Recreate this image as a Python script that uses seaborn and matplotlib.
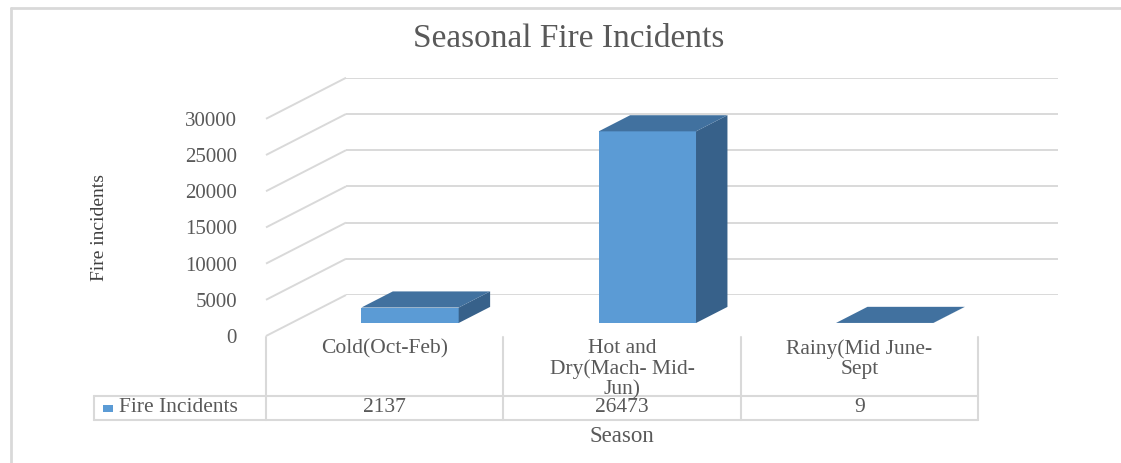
import textwrap
import matplotlib
matplotlib.use("Agg")
import matplotlib.pyplot as plt
from matplotlib.lines import Line2D
from matplotlib.patches import Polygon, Rectangle
import seaborn as sns

# ---------------- data ----------------
categories = ["Cold(Oct-Feb)", "Hot and Dry(Mach- Mid-Jun)", "Rainy(Mid June-Sept"]
fire_incidents = [2137, 26473, 9]
series_name = "Fire Incidents"
y_ticks = [0, 5000, 10000, 15000, 20000, 25000, 30000]
chart_title = "Seasonal Fire Incidents"
x_title = "Season"
y_title = "Fire incidents"

# ---------------- style ----------------
sns.set_style("white")
plt.rcParams["font.family"] = ["Liberation Serif", "DejaVu Serif"]

W, H, DPI = 1121, 463, 100
fig = plt.figure(figsize=(W / DPI, H / DPI), dpi=DPI)
fig.patch.set_facecolor("white")

GRID = "#D9D9D9"
TXT = "#595959"
FRONT = "#5B9BD5"
TOP = "#41719F"
SIDE = "#37618A"


def box(left_px, top_px, width_px, height_px):
    return [left_px / W, 1 - (top_px + height_px) / H, width_px / W, height_px / H]


# geometry in pixels
PL, PR = 266, 978            # front plane left / right
P0 = 336                     # pixel row of value 0 on the front plane
PPX = 36.2 / 5000            # pixels per unit
YMAX = y_ticks[-1]
PH = YMAX * PPX
DEPTH = (80, 41)             # full depth offset (px right, px up)
Z0, Z1 = 0.317, 0.71         # bar depth range
COLW = (PR - PL) / len(categories)

ax_back = fig.add_axes(box(PL + DEPTH[0], P0 - DEPTH[1] - PH, PR - PL, PH))
ax_front = fig.add_axes(box(PL, P0 - PH, PR - PL, PH))
ax_bar = fig.add_axes(box(PL + Z0 * DEPTH[0], P0 - Z0 * DEPTH[1] - PH, PR - PL, PH))

for a in (ax_back, ax_front, ax_bar):
    a.set_facecolor("none")
    for s in a.spines.values():
        s.set_visible(False)

# back wall gridlines
for v in y_ticks:
    ax_back.axhline(v, color=GRID, lw=1.4)
ax_back.set_xlim(-0.5, len(categories) - 0.5)
ax_back.set_ylim(0, YMAX)
ax_back.set_xticks([])
ax_back.set_yticks([])

# side wall diagonals (front plane -> back wall)
dxu = DEPTH[0] / COLW
dyu = DEPTH[1] / PPX
for v in y_ticks:
    ax_front.plot([-0.5, -0.5 + dxu], [v, v + dyu], color=GRID, lw=1.4,
                  clip_on=False, solid_capstyle="butt")
ax_front.set_xlim(-0.5, len(categories) - 0.5)
ax_front.set_ylim(0, YMAX)
ax_front.set_xticks([])
ax_front.set_yticks(y_ticks)
ax_front.set_yticklabels([str(v) for v in y_ticks])
ax_front.tick_params(axis="y", length=0, pad=21, labelsize=15, labelcolor=TXT)
ax_front.set_ylabel(y_title, fontsize=14, color="#404040")
ax_front.yaxis.set_label_coords((108 - PL) / (PR - PL), 0.5)

# bars (front faces) with seaborn
sns.barplot(x=categories, y=fire_incidents, ax=ax_bar, color=FRONT,
            saturation=1, width=0.41, edgecolor="none", linewidth=0)
ax_bar.set_xlim(-0.5, len(categories) - 0.5)
ax_bar.set_ylim(0, YMAX)
ax_bar.set_xticks([])
ax_bar.set_yticks([])
ax_bar.set_xlabel("")
ax_bar.set_ylabel("")

dd = Z1 - Z0
bdx = dd * DEPTH[0] / COLW
bdy = dd * DEPTH[1] / PPX
for p in list(ax_bar.patches):
    x, w, h = p.get_x(), p.get_width(), p.get_height()
    top = Polygon([(x, h), (x + w, h), (x + w + bdx, h + bdy), (x + bdx, h + bdy)],
                  closed=True, facecolor=TOP, edgecolor="none", clip_on=False)
    side = Polygon([(x + w, 0), (x + w, h), (x + w + bdx, h + bdy), (x + w + bdx, bdy)],
                   closed=True, facecolor=SIDE, edgecolor="none", clip_on=False)
    ax_bar.add_patch(side)
    ax_bar.add_patch(top)

# ---------------- data table ----------------
TT, TB = 337, 420
SEP = 396
ax_tab = fig.add_axes(box(PL, TT, PR - PL, TB - TT))
ax_tab.set_facecolor("none")
for s in ax_tab.spines.values():
    s.set_visible(False)
ax_tab.set_xlim(-0.5, len(categories) - 0.5)
ax_tab.set_ylim(TB - TT, 0)
ax_tab.set_xticks([])
ax_tab.set_yticks([])

leg_left = -0.5 - (PL - 94) / COLW
sep_y = SEP - TT
bot_y = TB - TT
lkw = dict(color=GRID, lw=1.5, clip_on=False)
for i in range(len(categories) + 1):
    ax_tab.plot([i - 0.5, i - 0.5], [0, bot_y], **lkw)
ax_tab.plot([leg_left, len(categories) - 0.5], [sep_y, sep_y], **lkw)
ax_tab.plot([leg_left, len(categories) - 0.5], [bot_y, bot_y], **lkw)
ax_tab.plot([leg_left, leg_left], [sep_y, bot_y], **lkw)

for i, (c, v) in enumerate(zip(categories, fire_incidents)):
    ax_tab.text(i, 2, "\n".join(textwrap.wrap(c, 15)), ha="center", va="top",
                fontsize=15.5, color=TXT, linespacing=1.1)
    ax_tab.text(i, (sep_y + bot_y) / 2, f"{v}", ha="center", va="center",
                fontsize=15.5, color=TXT)

sq_l = -0.5 - (PL - 103) / COLW
sq_w = 10 / COLW
ax_tab.add_patch(Rectangle((sq_l, (sep_y + bot_y) / 2 - 3.5), sq_w, 7,
                           facecolor=FRONT, edgecolor="none", clip_on=False))
ax_tab.text(-0.5 - (PL - 119) / COLW, (sep_y + bot_y) / 2, series_name,
            ha="left", va="center", fontsize=15.5, color=TXT)

ax_tab.text(1, 436 - TT, x_title, ha="center", va="center", fontsize=16.5,
            color=TXT, clip_on=False)

# title
fig.text(569 / W, 1 - 39 / H, chart_title, ha="center", va="center",
         fontsize=24, color=TXT)

# chart-area border (left and top visible)
fig.add_artist(Line2D([11 / W, 11 / W], [0, 1 - 8 / H], color=GRID, lw=2,
                      transform=fig.transFigure))
fig.add_artist(Line2D([11 / W, 1], [1 - 8 / H, 1 - 8 / H], color=GRID, lw=2,
                      transform=fig.transFigure))

fig.savefig("out.png", dpi=DPI)
